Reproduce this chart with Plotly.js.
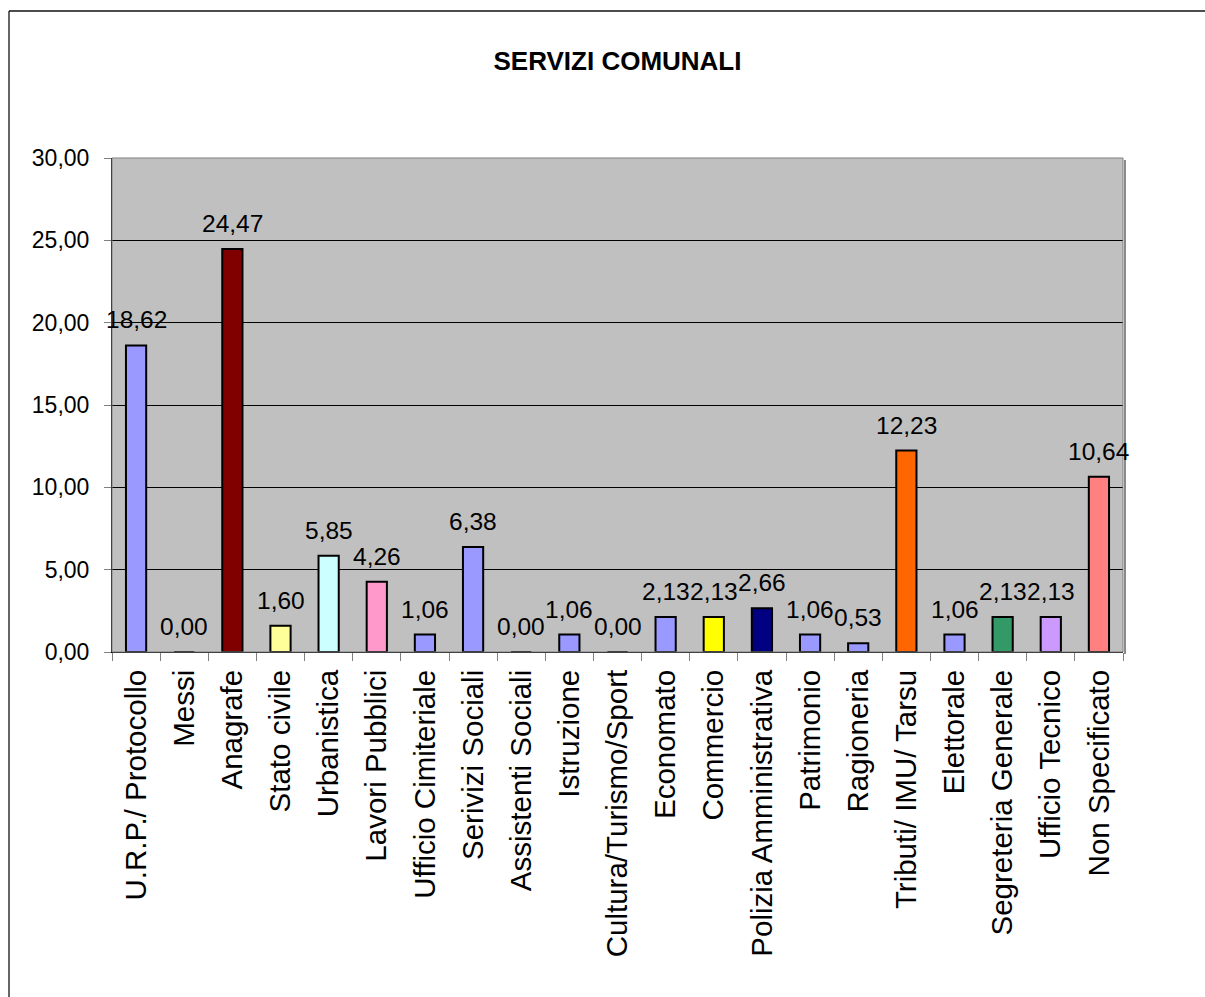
<!DOCTYPE html>
<html>
<head>
<meta charset="utf-8">
<script src="https://cdn.plot.ly/plotly-3.0.1.min.js"></script>
<style>html,body{margin:0;padding:0;background:#fff;}#chart{width:1205px;height:997px;}</style>
</head>
<body>
<div id="chart"></div>
<script>
const categories = ["U.R.P./ Protocollo","Messi","Anagrafe","Stato civile","Urbanistica","Lavori Pubblici","Ufficio Cimiteriale","Serivizi Sociali","Assistenti Sociali","Istruzione","Cultura/Turismo/Sport","Economato","Commercio","Polizia Amministrativa","Patrimonio","Ragioneria","Tributi/ IMU/ Tarsu","Elettorale","Segreteria Generale","Ufficio Tecnico","Non Specificato"];
const values = [18.62,0.00,24.47,1.60,5.85,4.26,1.06,6.38,0.00,1.06,0.00,2.13,2.13,2.66,1.06,0.53,12.23,1.06,2.13,2.13,10.64];
const barColors = ["#9999FF","#9999FF","#800000","#FFFF99","#CCFFFF","#FF99CC","#9999FF","#9999FF","#9999FF","#9999FF","#9999FF","#9999FF","#FFFF00","#000080","#9999FF","#9999FF","#FF6600","#9999FF","#339966","#CC99FF","#FF8080"];
const yTicks = [0,5,10,15,20,25,30];

const font = "Liberation Sans, Arial, sans-serif";

const trace = {
  type: "bar",
  x: categories,
  y: values,
  width: 0.42,
  marker: {color: barColors, line: {color: "#000000", width: 2}},
  hoverinfo: "none"
};

const labels = categories.map((c, i) => ({
  x: c, y: values[i], xref: "x", yref: "y",
  text: values[i].toFixed(2).replace(".", ","),
  showarrow: false, yanchor: "bottom", yshift: 10,
  font: {family: font, size: 24.5, color: "#000"}
}));

const layout = {
  width: 1205, height: 997,
  margin: {l: 112, r: 82, t: 158, b: 345},
  paper_bgcolor: "#ffffff",
  plot_bgcolor: "#C0C0C0",
  separators: ",.",
  showlegend: false,
  font: {family: font, color: "#000"},
  title: {text: "<b>SERVIZI COMUNALI</b>", font: {family: font, size: 26, color: "#000"},
          x: 0.5, xref: "paper", y: 1 - 61/997, yref: "container", yanchor: "middle"},
  xaxis: {
    type: "category",
    range: [-0.5, categories.length - 0.5],
    autorange: false,
    tickangle: -90,
    tickfont: {family: font, size: 29.5, color: "#000"},
    ticks: "outside", ticklen: 8, tickcolor: "#808080", tickwidth: 1,
    tickson: "boundaries",
    showline: true, linecolor: "#000", linewidth: 1,
    showgrid: false, zeroline: false,
    ticklabelstandoff: 5
  },
  yaxis: {
    range: [0, 30],
    autorange: false,
    tickvals: yTicks,
    tickformat: ".2f",
    tickfont: {family: font, size: 23, color: "#000"},
    ticks: "outside", ticklen: 7, tickcolor: "#808080", tickwidth: 1,
    showline: true, linecolor: "#000", linewidth: 1,
    showgrid: true, gridcolor: "#000000", gridwidth: 1,
    zeroline: false,
    ticklabelstandoff: 10
  },
  annotations: labels,
  shapes: [
    {type: "rect", xref: "paper", yref: "paper", x0: 0, x1: 1, y0: 0, y1: 1,
     line: {color: "#808080", width: 1}, layer: "above"},
    {type: "line", xref: "paper", yref: "paper", x0: 1 + 2/1011, x1: 1 + 2/1011, y0: -2/494, y1: 1 - 2/494,
     line: {color: "#8a8a8a", width: 2}},
    {type: "line", xref: "paper", yref: "paper", x0: -103/1011, x1: -103/1011, y0: -2, y1: 641/494,
     line: {color: "#333", width: 1.5}},
    {type: "line", xref: "paper", yref: "paper", x0: -103/1011, x1: 2, y0: 641/494, y1: 641/494,
     line: {color: "#111", width: 1.5}}
  ]
};

Plotly.newPlot("chart", [trace], layout, {displayModeBar: false, staticPlot: true});
</script>
</body>
</html>
